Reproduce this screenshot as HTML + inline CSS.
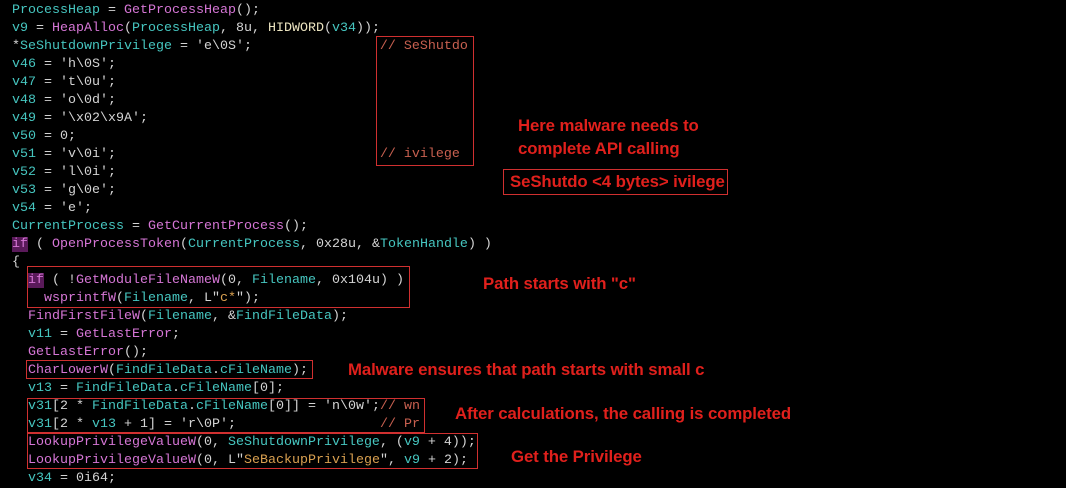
<!DOCTYPE html>
<html><head><meta charset="utf-8"><style>
body{margin:0;width:1066px;height:474px;background:#000;overflow:hidden;position:relative;font-family:"Liberation Mono",monospace;}
.code{position:absolute;left:12px;top:2px;font-size:13.33px;line-height:18px;white-space:pre;color:#d4d4d4;}
.c{color:#46c6c0}.f{color:#d676d6}.s{color:#d9a050}.m{color:#c86050}.y{color:#ece4c0}
.k{color:#d676d6;background:#5a1a5a}
.box{position:absolute;border:1px solid #d03030;box-sizing:border-box;}
.a{position:absolute;font-family:"Liberation Sans",sans-serif;font-weight:bold;font-size:16.8px;color:#e0201c;white-space:nowrap;letter-spacing:-0.1px;line-height:23px;}
</style></head><body>
<div class="code"><span class="c">ProcessHeap</span> = <span class="f">GetProcessHeap</span>();
<span class="c">v9</span> = <span class="f">HeapAlloc</span>(<span class="c">ProcessHeap</span>, 8u, <span class="y">HIDWORD</span>(<span class="c">v34</span>));
*<span class="c">SeShutdownPrivilege</span> = 'e\0S';                <span class="m">// SeShutdo</span>
<span class="c">v46</span> = 'h\0S';
<span class="c">v47</span> = 't\0u';
<span class="c">v48</span> = 'o\0d';
<span class="c">v49</span> = '\x02\x9A';
<span class="c">v50</span> = 0;
<span class="c">v51</span> = 'v\0i';                                 <span class="m">// ivilege</span>
<span class="c">v52</span> = 'l\0i';
<span class="c">v53</span> = 'g\0e';
<span class="c">v54</span> = 'e';
<span class="c">CurrentProcess</span> = <span class="f">GetCurrentProcess</span>();
<span class="k">if</span> ( <span class="f">OpenProcessToken</span>(<span class="c">CurrentProcess</span>, 0x28u, &amp;<span class="c">TokenHandle</span>) )
{
  <span class="k">if</span> ( !<span class="f">GetModuleFileNameW</span>(0, <span class="c">Filename</span>, 0x104u) )
    <span class="f">wsprintfW</span>(<span class="c">Filename</span>, L"<span class="s">c*</span>");
  <span class="f">FindFirstFileW</span>(<span class="c">Filename</span>, &amp;<span class="c">FindFileData</span>);
  <span class="c">v11</span> = <span class="f">GetLastError</span>;
  <span class="f">GetLastError</span>();
  <span class="f">CharLowerW</span>(<span class="c">FindFileData</span>.<span class="c">cFileName</span>);
  <span class="c">v13</span> = <span class="c">FindFileData</span>.<span class="c">cFileName</span>[0];
  <span class="c">v31</span>[2 * <span class="c">FindFileData</span>.<span class="c">cFileName</span>[0]] = 'n\0w';<span class="m">// wn</span>
  <span class="c">v31</span>[2 * <span class="c">v13</span> + 1] = 'r\0P';                  <span class="m">// Pr</span>
  <span class="f">LookupPrivilegeValueW</span>(0, <span class="c">SeShutdownPrivilege</span>, (<span class="c">v9</span> + 4));
  <span class="f">LookupPrivilegeValueW</span>(0, L"<span class="s">SeBackupPrivilege</span>", <span class="c">v9</span> + 2);
  <span class="c">v34</span> = 0i64;</div>
<div class="box" style="left:376px;top:36px;width:98px;height:130px"></div>
<div class="box" style="left:27px;top:266px;width:383px;height:42px"></div>
<div class="box" style="left:26px;top:360px;width:287px;height:19px"></div>
<div class="box" style="left:27px;top:398px;width:398px;height:35px"></div>
<div class="box" style="left:27px;top:433px;width:451px;height:36px"></div>
<div class="a" style="left:518px;top:114px">Here malware needs to</div>
<div class="a" style="left:518px;top:137px">complete API calling</div>
<div class="box" style="left:503px;top:169px;width:225px;height:26px"></div>
<div class="a" style="left:510px;top:170px">SeShutdo &lt;4 bytes&gt; ivilege</div>
<div class="a" style="left:483px;top:272px">Path starts with "c"</div>
<div class="a" style="left:348px;top:358px">Malware ensures that path starts with small c</div>
<div class="a" style="left:455px;top:402px">After calculations, the calling is completed</div>
<div class="a" style="left:511px;top:445px">Get the Privilege</div>
</body></html>
